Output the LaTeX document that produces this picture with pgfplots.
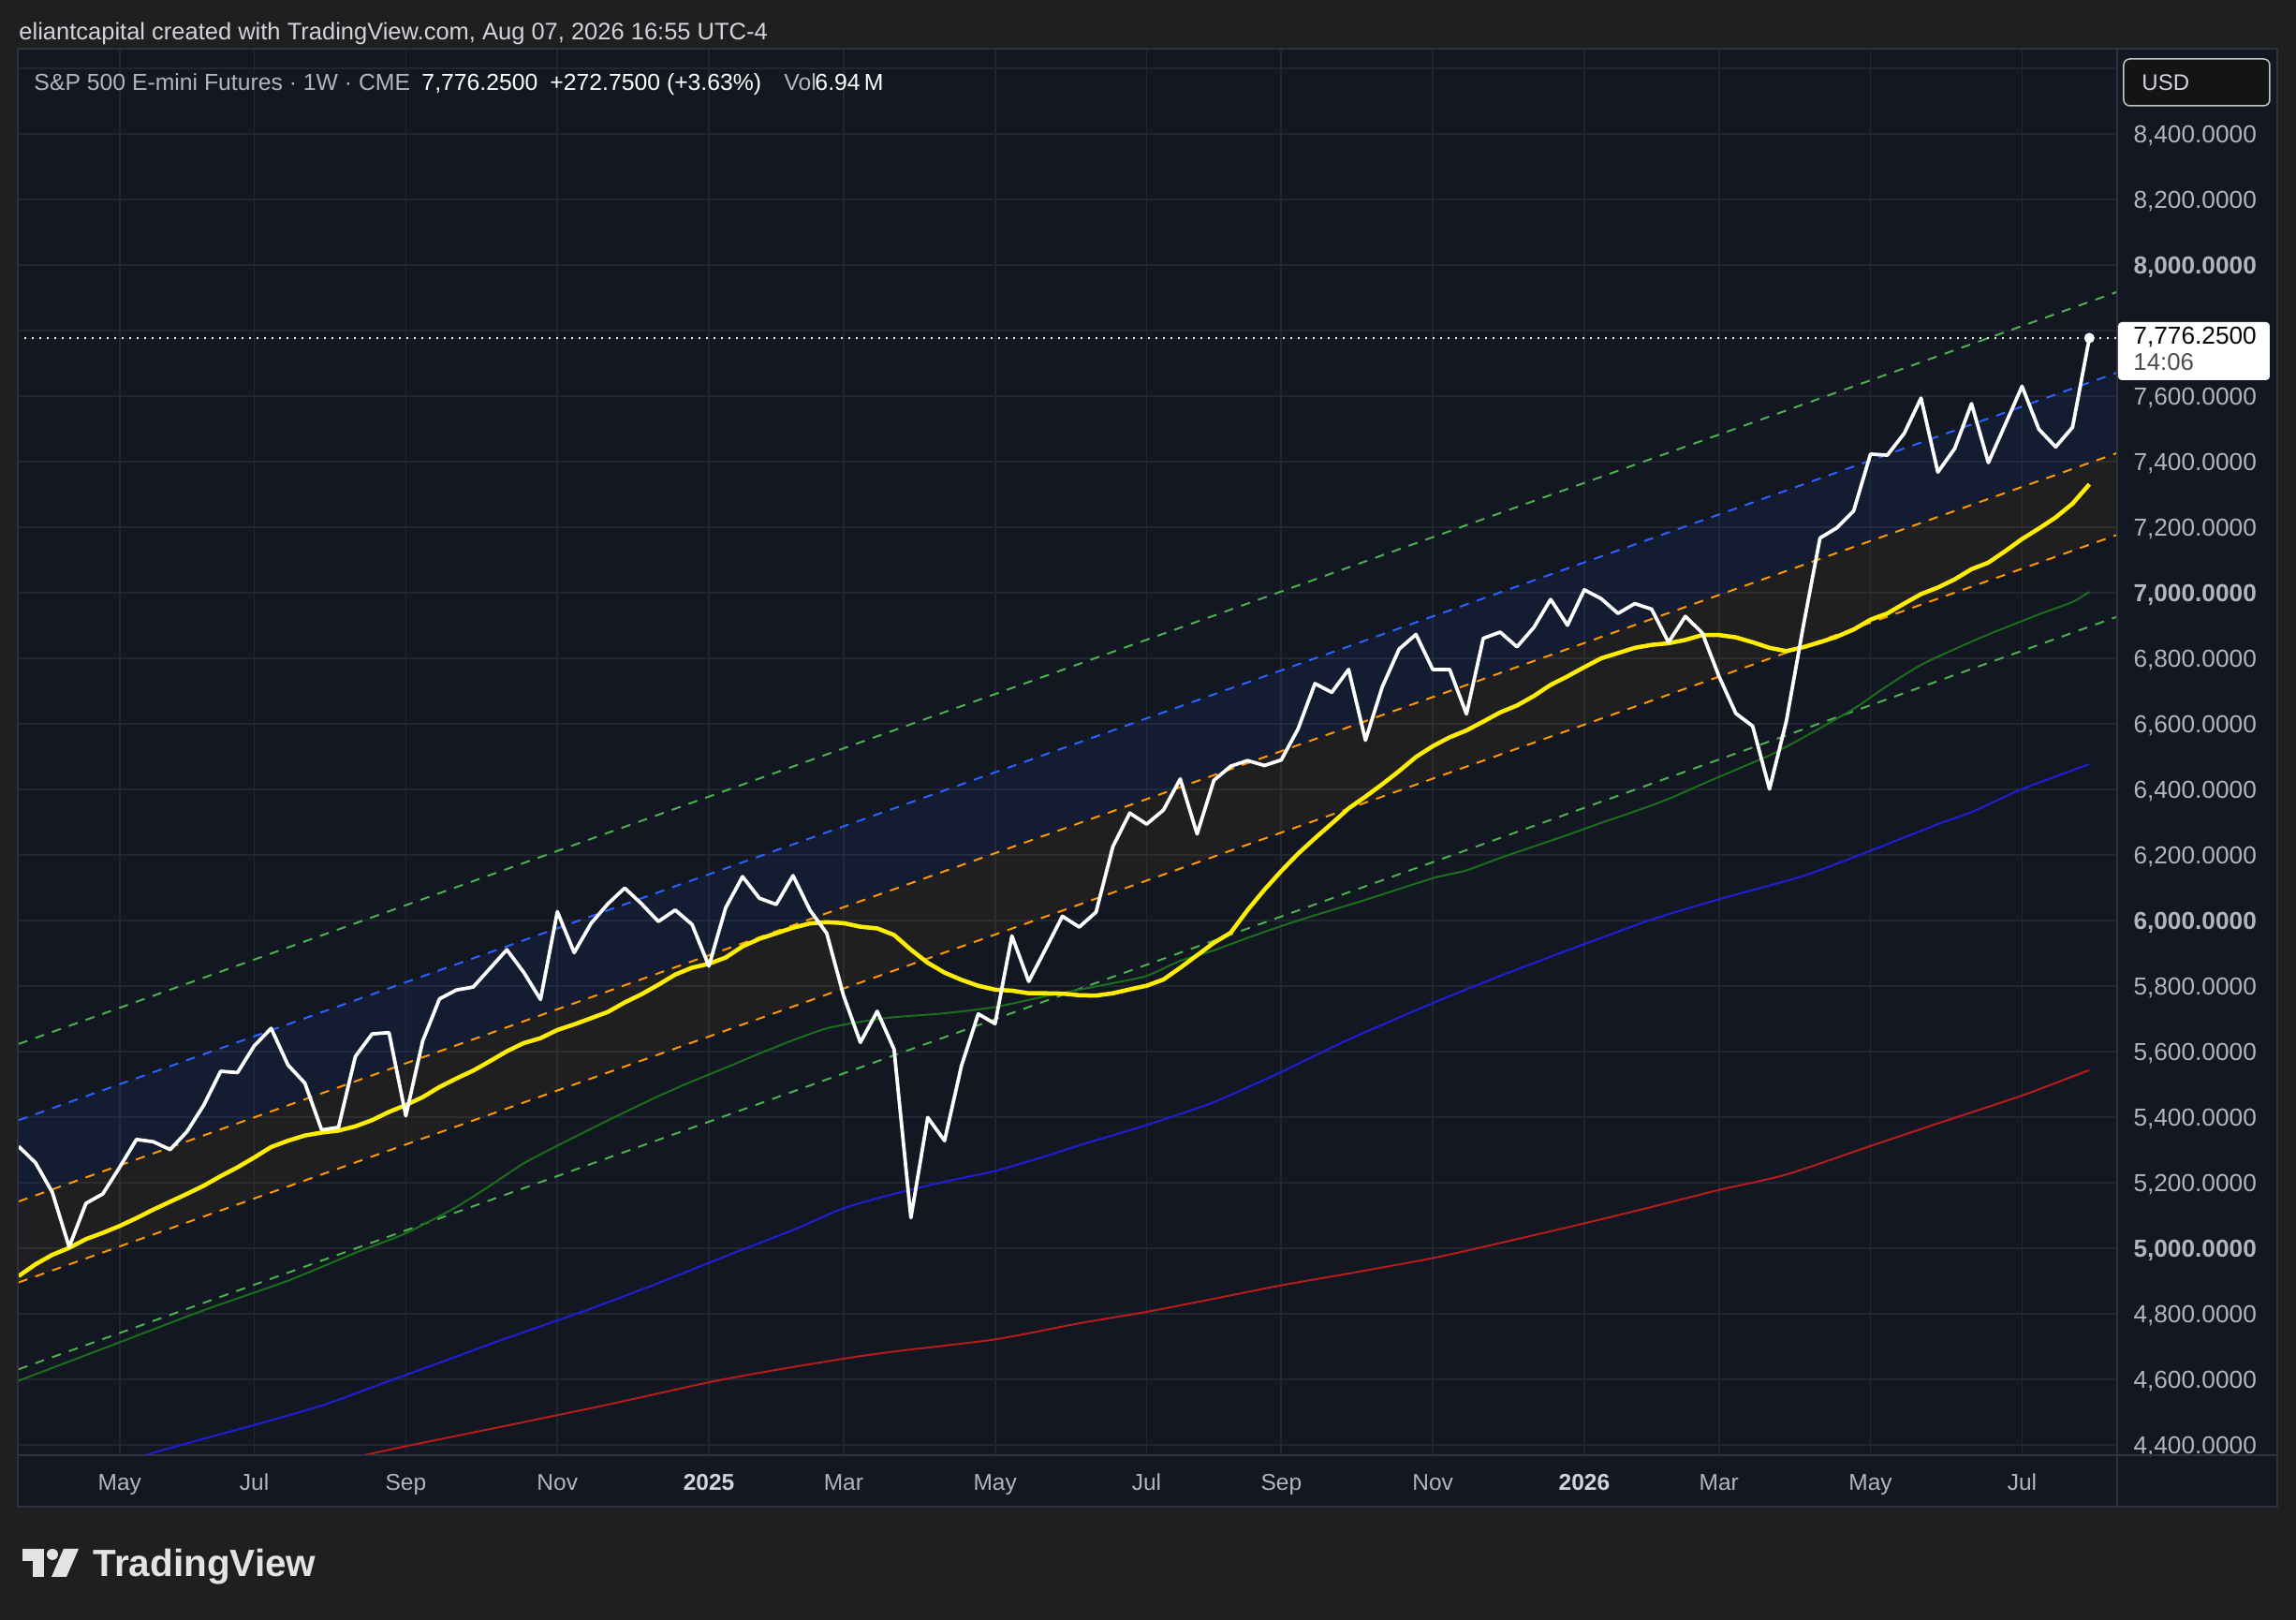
\documentclass[border=0pt]{standalone}
\usepackage{fontspec}
\setmainfont{Liberation Sans}
\usepackage{pgfplots}
\usepackage{pgfplotstable}
\pgfplotsset{compat=1.18}
\definecolor{outerbg}{HTML}{1F1F1F}
\definecolor{panelbg}{HTML}{131722}
\definecolor{gridc}{HTML}{222632}
\definecolor{framec}{HTML}{2E323E}
\definecolor{tvgreen}{HTML}{4CAF50}
\definecolor{tvblue}{HTML}{2962FF}
\definecolor{tvorange}{HTML}{FF9800}
\definecolor{maone}{HTML}{1B6E1B}
\definecolor{matwo}{HTML}{1E1ED8}
\definecolor{mathree}{HTML}{B71C1C}
\definecolor{yel}{HTML}{FFEE00}
\definecolor{labc}{HTML}{B2B5BE}
\definecolor{txtc}{HTML}{D1D4DC}
\definecolor{logoc}{HTML}{E3E3E3}
\newcommand\fs[1]{\fontsize{#1}{#1}\selectfont}

\pgfplotstableread{
i v
-41 5310
-40 5260
-39 5170
-38 5003
-37 5136
-36 5165
-35 5246
-34 5331
-33 5324
-32 5300
-31 5355
-30 5436
-29 5539
-28 5535
-27 5617
-26 5670
-25 5558
-24 5503
-23 5360
-22 5368
-21 5584
-20 5653
-19 5657
-18 5403
-17 5631
-16 5760
-15 5787
-14 5796
-13 5853
-12 5910
-11 5841
-10 5758
-9 6026
-8 5901
-7 5990
-6 6050
-5 6098
-4 6050
-3 5996
-2 6031
-1 5987
0 5860
1 6038
2 6133
3 6067
4 6048
5 6136
6 6031
7 5960
8 5770
9 5627
10 5722
11 5606
12 5092
13 5398
14 5327
15 5555
16 5714
17 5684
18 5952
19 5813
20 5912
21 6012
22 5979
23 6025
24 6225
25 6327
26 6293
27 6336
28 6431
29 6263
30 6427
31 6470
32 6487
33 6472
34 6489
35 6584
36 6722
37 6695
38 6765
39 6549
40 6712
41 6827
42 6872
43 6765
44 6765
45 6629
46 6860
47 6879
48 6834
49 6893
50 6979
51 6900
52 7008
53 6981
54 6936
55 6966
56 6949
57 6848
58 6927
59 6877
60 6744
61 6631
62 6592
63 6400
64 6607
65 6895
66 7166
67 7197
68 7249
69 7422
70 7419
71 7485
72 7593
73 7367
74 7439
75 7576
76 7396
77 7512
78 7629
79 7498
80 7444
81 7504
82 7776.25
}\pricedata

\pgfplotstableread{
i v
-41 4914
-40 4950
-39 4979
-38 5000
-37 5027
-36 5046
-35 5067
-34 5091
-33 5117
-32 5141
-31 5165
-30 5190
-29 5219
-28 5246
-27 5276
-26 5308
-25 5327
-24 5343
-23 5352
-22 5358
-21 5371
-20 5390
-19 5415
-18 5436
-17 5460
-16 5491
-15 5517
-14 5541
-13 5570
-12 5600
-11 5625
-10 5640
-9 5665
-8 5682
-7 5701
-6 5720
-5 5749
-4 5774
-3 5803
-2 5834
-1 5855
0 5867
1 5886
2 5920
3 5943
4 5960
5 5977
6 5990
7 5994
8 5991
9 5980
10 5975
11 5955
12 5910
13 5870
14 5840
15 5818
16 5800
17 5788
18 5785
19 5777
20 5777
21 5776
22 5771
23 5770
24 5777
25 5789
26 5800
27 5819
28 5855
29 5893
30 5931
31 5962
32 6031
33 6093
34 6150
35 6203
36 6250
37 6295
38 6341
39 6377
40 6415
41 6455
42 6498
43 6531
44 6558
45 6579
46 6606
47 6634
48 6655
49 6684
50 6718
51 6744
52 6772
53 6799
54 6815
55 6831
56 6840
57 6845
58 6855
59 6870
60 6870
61 6863
62 6848
63 6831
64 6821
65 6833
66 6848
67 6865
68 6887
69 6917
70 6936
71 6966
72 6995
73 7015
74 7040
75 7071
76 7091
77 7126
78 7163
79 7195
80 7229
81 7271
82 7330
}\yeldata

\pgfplotstableread{
i v
-41 4595
-35 4712
-30 4810
-25 4900
-21 4985
-18 5045
-15 5125
-13 5190
-11 5258
-9 5312
-6 5389
-3 5463
-1 5508
1 5550
3 5593
5 5634
7 5670
9 5690
11 5704
14 5716
17 5735
20 5768
22 5788
24 5808
26 5830
28 5876
30 5908
32 5946
34 5982
36 6015
39 6062
43 6128
45 6152
47 6190
49 6225
51 6260
53 6297
55 6332
57 6370
59 6415
61 6459
63 6503
65 6557
68 6645
70 6715
72 6779
74 6827
76 6872
79 6933
81 6971
82 7002
}\maonedata

\pgfplotstableread{
i v
-34 4361
-30 4418
-27 4460
-23 4519
-20 4575
-16 4650
-12 4725
-7 4815
-3 4893
1 4975
5 5055
8 5121
11 5165
14 5202
17 5235
20 5280
22 5313
26 5375
30 5445
34 5537
38 5636
43 5747
47 5830
52 5927
56 6002
60 6064
65 6135
69 6212
73 6293
75 6330
78 6400
82 6476
}\matwodata

\pgfplotstableread{
i v
-21 4362
-18 4395
-12 4458
-6 4522
0 4590
4 4628
8 4662
11 4684
17 4721
22 4770
26 4805
30 4845
34 4886
38 4922
43 4969
47 5015
52 5075
56 5125
60 5177
64 5224
69 5311
73 5380
78 5465
82 5543
}\mathreedata

\begin{document}
\begin{tikzpicture}
\path[use as bounding box] (0,0) rectangle (980.8pt,692pt);
\begin{scope}[x=0.4pt,y=-0.4pt,shift={(0pt,692pt)}]
\fill[outerbg] (0,0) rectangle (2452,1730);
\fill[panelbg] (19.5,52.5) rectangle (2432,1609.5);
\end{scope}

\begin{axis}[
  at={(7.6pt,70.4pt)}, anchor=south west,
  width=896.8pt, height=600.4pt, scale only axis,
  xmin=-41.05, xmax=83.65, ymin=4367.7, ymax=8656.3,
  axis line style={draw=none},
  major tick length=0pt,
  grid=major,
  major grid style={draw=gridc, line width=0.7pt},
  xtick={-35,-27,-18,-9,0,8,17,26,34,43,52,60,69,78},
  xticklabels={May,Jul,Sep,Nov,{\bfseries\color{txtc}2025},Mar,May,Jul,Sep,Nov,{\bfseries\color{txtc}2026},Mar,May,Jul},
  xticklabel style={anchor=base, inner sep=0pt, yshift=-15.2pt, font=\fs{9.8pt}, text=labc},
  ytick={4400,4600,4800,5000,5200,5400,5600,5800,6000,6200,6400,6600,6800,7000,7200,7400,7600,7800,8000,8200,8400,8600},
  yticklabels={{4,400.0000},{4,600.0000},{4,800.0000},{\bfseries 5,000.0000},{5,200.0000},{5,400.0000},{5,600.0000},{5,800.0000},{\bfseries 6,000.0000},{6,200.0000},{6,400.0000},{6,600.0000},{6,800.0000},{\bfseries 7,000.0000},{7,200.0000},{7,400.0000},{7,600.0000},{},{\bfseries 8,000.0000},{8,200.0000},{8,400.0000},{}},
  yticklabel pos=right,
  yticklabel style={anchor=base west, inner sep=0pt, xshift=6.8pt, yshift=-3.76pt, font=\fs{10.5pt}, text=labc},
]
% channel fills
\addplot[draw=none, fill=tvblue, fill opacity=0.075] coordinates {(-42,5371.4) (84,7677.2) (84,7431.9) (-42,5123.6)} -- cycle;
\addplot[draw=none, fill=tvorange, fill opacity=0.055] coordinates {(-42,5123.6) (84,7431.9) (84,7182.2) (-42,4876.4)} -- cycle;
% channel lines
\addplot[tvgreen, line width=0.8pt, dash pattern=on 4pt off 3.6pt] coordinates {(-42,5603.8) (84,7923.4)};
\addplot[tvblue, line width=0.8pt, dash pattern=on 4pt off 3.6pt] coordinates {(-42,5371.4) (84,7677.2)};
\addplot[tvorange, line width=0.8pt, dash pattern=on 4pt off 3.6pt] coordinates {(-42,5123.6) (84,7431.9)};
\addplot[tvorange, line width=0.8pt, dash pattern=on 4pt off 3.6pt] coordinates {(-42,4876.4) (84,7182.2)};
\addplot[tvgreen, line width=0.8pt, dash pattern=on 4pt off 3.6pt] coordinates {(-42,4611.4) (84,6932.3)};
% moving averages
\addplot[mathree, line width=0.8pt, smooth, tension=0.4] table[x=i,y=v] {\mathreedata};
\addplot[matwo, line width=0.8pt, smooth, tension=0.4] table[x=i,y=v] {\matwodata};
\addplot[maone, line width=0.8pt, smooth, tension=0.4] table[x=i,y=v] {\maonedata};
\addplot[yel, line width=1.8pt, line join=round] table[x=i,y=v] {\yeldata};
% price
\addplot[white, line width=1.5pt, line join=round] table[x=i,y=v] {\pricedata};
\addplot[white, line width=0.9pt, dash pattern=on 0.9pt off 2.3pt] coordinates {(-42,7776.25) (84,7776.25)};
\addplot[only marks, mark=*, mark size=2pt, white] coordinates {(82,7776.25)};
\end{axis}

\begin{scope}[x=0.4pt,y=-0.4pt,shift={(0pt,692pt)}]
% frame lines
\draw[framec, line width=0.8pt] (19.5,52.5) rectangle (2432,1609.5);
\draw[framec, line width=0.8pt] (2261,52.5) -- (2261,1609.5);
\draw[framec, line width=0.8pt] (19.5,1554) -- (2432,1554);
% price label box
\fill[white, rounded corners=1.6pt] (2262,344) rectangle (2424,406);
\node[anchor=base west, inner sep=0pt, text=black, font=\fs{10.5pt}] at (2278,368) {7,776.2500};
\node[anchor=base west, inner sep=0pt, text=black!70, font=\fs{10.3pt}] at (2278,396) {14:06};
% USD box
\draw[draw=black!75!white!30, fill=black!92!white, rounded corners=2.6pt, line width=0.6pt] (2268,63) rectangle (2424,113);
\node[anchor=base west, inner sep=0pt, text=txtc, font=\fs{9.6pt}] at (2287,97) {USD};
% header
\node[anchor=base west, inner sep=0pt, text=txtc, font=\fs{10.2pt}] at (20,43) {eliantcapital created with TradingView.com, Aug 07, 2026 16:55 UTC-4};
% legend line
\node[anchor=base west, inner sep=0pt, text=labc, font=\fs{9.9pt}] at (36,97) {S\&P 500 E-mini Futures · 1W · CME};
\node[anchor=base west, inner sep=0pt, text=white, font=\fs{9.9pt}] at (450,97) {7,776.2500};
\node[anchor=base west, inner sep=0pt, text=white, font=\fs{9.9pt}] at (587,97) {+272.7500 (+3.63\%)};
\node[anchor=base west, inner sep=0pt, text=labc, font=\fs{9.9pt}] at (837,97) {Vol};
\node[anchor=base west, inner sep=0pt, text=white, font=\fs{9.9pt}] at (870,97) {6.94\,M};
% TradingView logo
\fill[logoc] (24,1654) rectangle (47,1667);
\fill[logoc] (35.5,1654) rectangle (47,1684);
\fill[logoc] (56,1660) circle (6);
\fill[logoc] (68,1654) -- (84,1654) -- (71,1684) -- (55,1684) -- cycle;
\node[anchor=base west, inner sep=0pt, text=logoc, font=\bfseries\fs{16.2pt}] at (99,1684) {TradingView};
\end{scope}
\end{tikzpicture}
\end{document}
